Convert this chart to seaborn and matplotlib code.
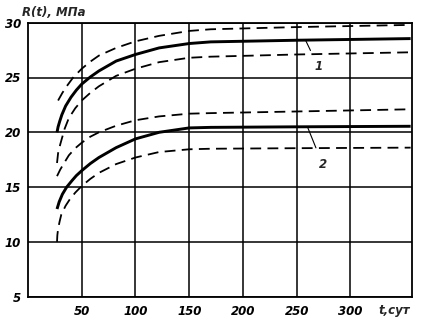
import matplotlib
matplotlib.use("Agg")
import matplotlib.pyplot as plt
import seaborn as sns
import pandas as pd

# ---- data ----
t_s1 = [27, 28, 29.5, 31.5, 35, 40, 45, 50, 58, 66, 82, 100, 122, 150, 170, 250, 356]
r_s1 = [20.0, 20.5, 21.0, 21.6, 22.4, 23.2, 23.85, 24.4, 25.05, 25.6, 26.5, 27.1, 27.7, 28.1, 28.25, 28.4, 28.55]
t_u1 = [28, 32, 36, 42, 50, 58, 66, 82, 100, 122, 150, 170, 250, 356]
r_u1 = [22.9, 23.6, 24.2, 25.0, 25.8, 26.45, 27.0, 27.7, 28.3, 28.8, 29.25, 29.4, 29.6, 29.8]
t_l1 = [27, 28, 30, 34, 38, 44, 50, 58, 66, 82, 100, 122, 150, 170, 250, 356]
r_l1 = [17.2, 18.1, 18.9, 20.3, 21.3, 22.2, 22.9, 23.6, 24.2, 25.15, 25.8, 26.4, 26.8, 26.9, 27.1, 27.3]

t_s2 = [27, 29, 32, 36, 41, 45, 50, 58, 66, 82, 100, 122, 150, 170, 250, 356]
r_s2 = [13.0, 13.65, 14.35, 15.0, 15.6, 16.05, 16.5, 17.15, 17.7, 18.6, 19.4, 20.0, 20.4, 20.45, 20.5, 20.55]
t_u2 = [27, 30, 33, 38, 44, 50, 58, 66, 82, 100, 122, 150, 170, 250, 356]
r_u2 = [16.0, 16.6, 17.1, 17.9, 18.55, 19.05, 19.6, 20.0, 20.6, 21.1, 21.45, 21.7, 21.75, 21.9, 22.1]
t_l2 = [27, 27.3, 28, 29.5, 31, 35, 39, 44, 50, 58, 66, 82, 100, 122, 150, 170, 250, 356]
r_l2 = [10.0, 10.6, 11.2, 11.9, 12.5, 13.3, 13.9, 14.5, 15.1, 15.75, 16.3, 17.1, 17.7, 18.2, 18.45, 18.5, 18.55, 18.6]

x_ticks = [50, 100, 150, 200, 250, 300]
y_ticks = [5, 10, 15, 20, 25, 30]
x_unit = "t,сут"
y_label = "R(t), МПа"
curve_labels = ["1", "2"]

sns.set_style("white")
fam = ["Liberation Sans Narrow", "DejaVu Sans"]
plt.rcParams["font.family"] = fam

fig = plt.figure(figsize=(4.23, 3.22), dpi=100)
ax = fig.add_axes([28 / 423, 1 - 296.7 / 322, (411.7 - 28) / 423, (296.7 - 22.7) / 322])

series = [
    (t_s1, r_s1, "solid"), (t_u1, r_u1, "dash"), (t_l1, r_l1, "dash"),
    (t_s2, r_s2, "solid"), (t_u2, r_u2, "dash"), (t_l2, r_l2, "dash"),
]
for t, r, kind in series:
    df = pd.DataFrame({"t": t, "R": r})
    if kind == "solid":
        sns.lineplot(data=df, x="t", y="R", ax=ax, color="black", lw=2.1,
                     solid_capstyle="butt", solid_joinstyle="round", sort=False)
    else:
        sns.lineplot(data=df, x="t", y="R", ax=ax, color="black", lw=1.3,
                     linestyle=(0, (6, 3.5)), sort=False)

ax.set_xlim(0, 357)
ax.set_ylim(5, 30)
ax.set_xticks(x_ticks)
ax.set_yticks(y_ticks)
ax.set_xticklabels([str(v) for v in x_ticks])
ax.set_yticklabels([str(v) for v in y_ticks])
for lab in ax.get_xticklabels() + ax.get_yticklabels():
    lab.set_fontstyle("italic")
    lab.set_fontweight("bold")
    lab.set_fontsize(8.5)
ax.tick_params(axis="both", length=0, pad=5, colors="black")
ax.tick_params(axis="x", pad=6)
ax.grid(True, color="black", lw=1.1)
for s in ax.spines.values():
    s.set_color("black")
    s.set_linewidth(1.3)
ax.set_xlabel("")
ax.set_ylabel("")

ax.text(341, 3.75, x_unit, ha="center", va="center", clip_on=False,
        fontsize=8.5, style="italic", fontweight="bold")
fig.text(22 / 423, 1 - 12.7 / 322, y_label, ha="left", va="center",
         fontsize=8.5, style="italic", fontweight="bold")

ax.annotate(curve_labels[0], xy=(258, 28.45), xytext=(270, 26.0),
            ha="center", va="center", fontsize=8.5, style="italic", fontweight="bold",
            arrowprops=dict(arrowstyle="-", lw=0.8, color="black", shrinkA=5, shrinkB=0))
ax.annotate(curve_labels[1], xy=(260, 20.5), xytext=(274, 17.1),
            ha="center", va="center", fontsize=8.5, style="italic", fontweight="bold",
            arrowprops=dict(arrowstyle="-", lw=0.8, color="black", shrinkA=5, shrinkB=0))

fig.savefig("out.png", dpi=100, facecolor="white")
